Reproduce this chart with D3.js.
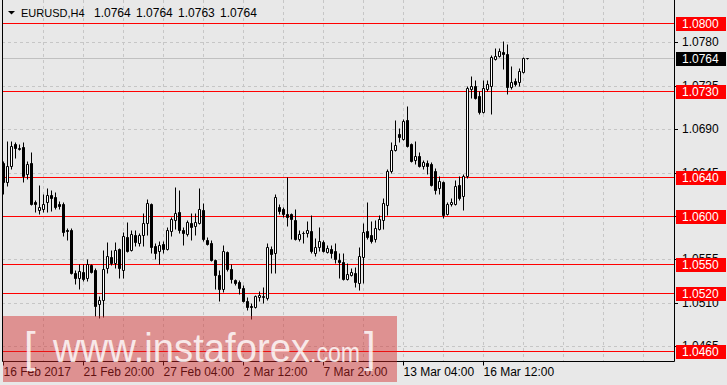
<!DOCTYPE html>
<html>
<head>
<meta charset="utf-8">
<script src="https://cdn.jsdelivr.net/npm/d3@7"></script>
<style>
html, body { margin: 0; padding: 0; background: #e8e8e8; }
svg { display: block; }
text { font-family: "Liberation Sans", Arial, sans-serif; }
</style>
</head>
<body>
<svg id="chart"></svg>
<script>
var symbol = "EURUSD,H4";
// first bar 16 Feb 2017 12:00, H4 bars, weekends skipped
var startTime = Date.UTC(2017, 1, 16, 12);

var opens = [1.0655,1.0635,1.0652,1.0675,1.0669,1.0671,1.0643,1.0655,1.0614,1.0606,
  1.0607,1.0614,1.0622,1.0620,1.0612,1.0612,1.0585,1.0585,1.0541,1.0536,
  1.0542,1.0536,1.0549,1.0544,1.0509,1.0513,1.0546,1.0557,1.0551,1.0566,
  1.0544,1.0578,1.0565,1.0580,1.0572,1.0580,1.0593,1.0612,1.0569,1.0564,
  1.0571,1.0566,1.0584,1.0596,1.0604,1.0585,1.0581,1.0593,1.0590,1.0593,
  1.0606,1.0575,1.0572,1.0554,1.0539,1.0524,1.0563,1.0545,1.0534,1.0532,
  1.0525,1.0512,1.0507,1.0506,1.0516,1.0516,1.0515,1.0566,1.0562,1.0609,
  1.0607,1.0602,1.0602,1.0596,1.0576,1.0582,1.0582,1.0584,1.0562,1.0568,
  1.0573,1.0563,1.0566,1.0564,1.0554,1.0552,1.0535,1.0539,1.0541,1.0530,
  1.0557,1.0584,1.0580,1.0576,1.0586,1.0596,1.0611,1.0647,1.0668,1.0685,
  1.0680,1.0699,1.0675,1.0658,1.0662,1.0652,1.0655,1.0654,1.0647,1.0629,
  1.0635,1.0602,1.0612,1.0612,1.0632,1.0621,1.0641,1.0732,1.0735,1.0724,
  1.0708,1.0732,1.0735,1.0763,1.0766,1.0770,1.0768,1.0734,1.0740,1.0739,
  1.0749,1.0764];
var highs = [1.0657,1.0678,1.0678,1.0677,1.0675,1.0677,1.0657,1.0666,1.0617,1.0632,
  1.0623,1.0629,1.0627,1.0625,1.0615,1.0614,1.0587,1.0587,1.0544,1.0550,
  1.0550,1.0555,1.0550,1.0546,1.0517,1.0565,1.0573,1.0565,1.0573,1.0567,
  1.0583,1.0594,1.0585,1.0585,1.0582,1.0603,1.0618,1.0613,1.0572,1.0574,
  1.0574,1.0589,1.0599,1.0630,1.0627,1.0589,1.0596,1.0603,1.0603,1.0629,
  1.0613,1.0578,1.0575,1.0555,1.0544,1.0570,1.0564,1.0550,1.0535,1.0534,
  1.0528,1.0516,1.0510,1.0518,1.0522,1.0526,1.0572,1.0569,1.0623,1.0612,
  1.0609,1.0640,1.0603,1.0607,1.0585,1.0584,1.0595,1.0601,1.0577,1.0589,
  1.0575,1.0570,1.0570,1.0572,1.0562,1.0562,1.0551,1.0546,1.0547,1.0568,
  1.0593,1.0614,1.0595,1.0596,1.0601,1.0619,1.0649,1.0677,1.0699,1.0691,
  1.0700,1.0714,1.0676,1.0678,1.0666,1.0658,1.0658,1.0656,1.0650,1.0641,
  1.0636,1.0614,1.0619,1.0637,1.0641,1.0643,1.0735,1.0745,1.0741,1.0729,
  1.0741,1.0741,1.0767,1.0774,1.0774,1.0781,1.0778,1.0755,1.0743,1.0753,
  1.0765,1.0764];
var lows = [1.0623,1.0631,1.0649,1.0660,1.0668,1.0635,1.0638,1.0611,1.0604,1.0602,
  1.0604,1.0604,1.0605,1.0607,1.0607,1.0579,1.0575,1.0540,1.0529,1.0524,
  1.0533,1.0533,1.0541,1.0496,1.0494,1.0495,1.0541,1.0549,1.0546,1.0536,
  1.0536,1.0563,1.0564,1.0569,1.0569,1.0569,1.0580,1.0562,1.0555,1.0550,
  1.0562,1.0565,1.0579,1.0586,1.0582,1.0570,1.0579,1.0575,1.0580,1.0592,
  1.0574,1.0570,1.0553,1.0524,1.0512,1.0521,1.0543,1.0530,1.0528,1.0519,
  1.0511,1.0502,1.0493,1.0505,1.0512,1.0510,1.0513,1.0541,1.0541,1.0602,
  1.0599,1.0590,1.0576,1.0575,1.0574,1.0572,1.0578,1.0562,1.0558,1.0564,
  1.0563,1.0562,1.0556,1.0551,1.0536,1.0534,1.0534,1.0538,1.0526,1.0523,
  1.0530,1.0576,1.0572,1.0573,1.0585,1.0586,1.0601,1.0645,1.0667,1.0677,
  1.0679,1.0671,1.0656,1.0654,1.0651,1.0649,1.0643,1.0631,1.0623,1.0623,
  1.0598,1.0601,1.0610,1.0611,1.0617,1.0606,1.0639,1.0722,1.0721,1.0706,
  1.0707,1.0729,1.0706,1.0762,1.0765,1.0752,1.0726,1.0732,1.0735,1.0735,
  1.0748,1.0763];
var closes = [1.0635,1.0652,1.0672,1.0670,1.0670,1.0641,1.0654,1.0612,1.0612,1.0609,
  1.0612,1.0622,1.0619,1.0609,1.0610,1.0583,1.0584,1.0541,1.0536,1.0543,
  1.0535,1.0550,1.0542,1.0507,1.0513,1.0545,1.0558,1.0551,1.0565,1.0546,
  1.0579,1.0564,1.0581,1.0573,1.0580,1.0593,1.0613,1.0568,1.0562,1.0570,
  1.0566,1.0585,1.0597,1.0603,1.0585,1.0582,1.0594,1.0589,1.0594,1.0607,
  1.0576,1.0571,1.0554,1.0539,1.0524,1.0564,1.0545,1.0535,1.0530,1.0525,
  1.0512,1.0506,1.0506,1.0517,1.0518,1.0517,1.0568,1.0561,1.0620,1.0605,
  1.0602,1.0599,1.0597,1.0576,1.0581,1.0582,1.0585,1.0564,1.0568,1.0574,
  1.0564,1.0567,1.0562,1.0555,1.0552,1.0535,1.0540,1.0542,1.0532,1.0558,
  1.0583,1.0578,1.0574,1.0587,1.0597,1.0613,1.0647,1.0668,1.0674,1.0682,
  1.0698,1.0672,1.0657,1.0662,1.0652,1.0656,1.0652,1.0632,1.0627,1.0636,
  1.0601,1.0612,1.0614,1.0631,1.0619,1.0641,1.0733,1.0735,1.0722,1.0708,
  1.0733,1.0737,1.0765,1.0766,1.0771,1.0768,1.0734,1.0739,1.0737,1.0750,
  1.0764,1.0764];

var levels = [1.0800, 1.0730, 1.0640, 1.0600, 1.0550, 1.0520, 1.0460];
var priceTicks = [1.0780, 1.0735, 1.0690, 1.0645, 1.0600, 1.0555, 1.0510, 1.0465];
var labelStep = 20;
var gridStep = 10;

var width = 727, height = 385;
var left = 2, right = 674, bottom = 361;
var n = opens.length;
var last = n - 1;

// bar times
var times = [];
var t = startTime;
for (var i = 0; i < n; i++) {
  times.push(new Date(t));
  t += 4 * 3600 * 1000;
  while (new Date(t).getUTCDay() == 0 || new Date(t).getUTCDay() == 6) t += 4 * 3600 * 1000;
}
var fmtFirst = d3.utcFormat("%-d %b %Y");
var fmtBar = d3.utcFormat("%-d %b %H:%M");

var svg = d3.select('#chart').attr('width', width).attr('height', height);
svg.append('rect').attr('width', width).attr('height', height).attr('fill', '#e8e8e8');

var x = d3.scaleLinear().domain([0, 1]).range([3.5, 7.5]);
var y = d3.scaleLinear().domain([1.0460, 1.0800]).range([351, 23]).interpolate(d3.interpolateRound);
function py(p) { return y(p) + 0.5; }

// grid
var grid = svg.append('g').attr('stroke', '#c6c6c6').attr('stroke-dasharray', '3,3');
var gx = d3.range(gridStep, 200, gridStep).filter(i => x(i) < right);
grid.selectAll('line.v').data(gx).enter().append('line')
  .attr('x1', d => x(d)).attr('x2', d => x(d))
  .attr('y1', 0).attr('y2', bottom);
grid.selectAll('line.h').data(priceTicks).enter().append('line')
  .attr('x1', left).attr('x2', right)
  .attr('y1', py).attr('y2', py);

// current price line
svg.append('line')
  .attr('x1', left).attr('x2', right)
  .attr('y1', py(closes[last])).attr('y2', py(closes[last]))
  .attr('stroke', '#c0c0c0');

// levels
svg.append('g').selectAll('line').data(levels).enter().append('line')
  .attr('x1', left).attr('x2', right)
  .attr('y1', py).attr('y2', py)
  .attr('stroke', '#ff0000');

// candles
var bars = d3.range(n);
var candles = svg.append('g');
candles.selectAll('line').data(bars).enter().append('line')
  .attr('x1', d => x(d)).attr('x2', d => x(d))
  .attr('y1', d => py(highs[d])).attr('y2', d => py(lows[d]))
  .attr('stroke', '#000');
candles.selectAll('path').data(bars).enter().append('path')
  .attr('d', function (d) {
    var yt = py(Math.max(opens[d], closes[d]));
    var yb = py(Math.min(opens[d], closes[d]));
    return 'M' + (x(d) - 1) + ',' + yt + 'H' + (x(d) + 1) + 'V' + yb + 'H' + (x(d) - 1) + 'Z';
  })
  .attr('fill', d => closes[d] >= opens[d] ? '#ffffff' : '#000000')
  .attr('stroke', '#000');

// frame
svg.append('path')
  .attr('d', 'M' + (left + 0.5) + ',0V' + (bottom + 0.5) + 'H' + (right + 0.5) + 'V0')
  .attr('fill', 'none').attr('stroke', '#000');

// price axis
var yAxis = d3.axisRight(y).tickValues(priceTicks).tickSize(4).tickPadding(4)
  .tickFormat(d3.format('.4f'));
var ya = svg.append('g').attr('transform', 'translate(' + right + ',0)').call(yAxis);
ya.select('.domain').remove();
ya.selectAll('text').attr('font-size', 12).attr('fill', '#000').attr('font-family', '"Liberation Sans", Arial, sans-serif');
ya.selectAll('line').attr('stroke', '#000');

// level labels
var tags = svg.append('g');
tags.selectAll('rect').data(levels).enter().append('rect')
  .attr('x', 676).attr('y', d => y(d) - 6).attr('width', 50).attr('height', 14)
  .attr('fill', '#ff0000');
tags.selectAll('text').data(levels).enter().append('text')
  .attr('x', 682).attr('y', d => y(d) + 5)
  .attr('font-size', 12).attr('fill', '#fff')
  .text(d3.format('.4f'));

svg.append('rect').attr('x', 676).attr('y', y(closes[last]) - 6).attr('width', 50).attr('height', 14)
  .attr('fill', '#000');
svg.append('text').attr('x', 682).attr('y', y(closes[last]) + 5)
  .attr('font-size', 12).attr('fill', '#fff')
  .text(d3.format('.4f')(closes[last]));

// time axis
var xAxis = d3.axisBottom(x).tickValues(d3.range(0, n, labelStep)).tickSize(4).tickPadding(2).offset(0)
  .tickFormat(i => i == 0 ? fmtFirst(times[i]) : fmtBar(times[i]));
var xa = svg.append('g').attr('transform', 'translate(0,' + (bottom + 0.5) + ')').call(xAxis);
xa.select('.domain').remove();
xa.selectAll('text').attr('text-anchor', 'start').attr('font-size', 12).attr('fill', '#000')
  .attr('font-family', '"Liberation Sans", Arial, sans-serif');
xa.selectAll('line').attr('stroke', '#000');

// header
svg.append('path').attr('d', 'M8,11H15L11.5,14.5Z').attr('fill', '#000');
svg.append('text').attr('x', 21).attr('y', 17).attr('font-size', 11).attr('fill', '#000').text(symbol);
svg.append('text').attr('x', 94).attr('y', 17).attr('font-size', 12).attr('fill', '#000')
  .attr('word-spacing', 2)
  .text([opens[last], highs[last], lows[last], closes[last]].map(d3.format('.4f')).join(' '));

// watermark
var wm = svg.append('g');
wm.append('rect').attr('x', 3).attr('y', 316).attr('width', 394).attr('height', 66)
  .attr('fill', 'rgb(210,41,41)').attr('opacity', 0.45);
var wt = wm.append('g').attr('fill', '#fff').attr('opacity', 0.8)
  .style('font-family', '"Open Sans", "Liberation Sans", sans-serif').style('font-weight', 300);
wt.append('text').attr('x', 24).attr('y', 362).attr('font-size', 42).text('[');
wt.append('text').attr('x', 53).attr('y', 362).attr('font-size', 40)
  .attr('textLength', 257).attr('lengthAdjust', 'spacingAndGlyphs').text('www.instaforex');
wt.append('text').attr('x', 310).attr('y', 362).attr('font-size', 27)
  .attr('textLength', 50).attr('lengthAdjust', 'spacingAndGlyphs').text('.com');
wt.append('text').attr('x', 364).attr('y', 362).attr('font-size', 42).text(']');
</script>
</body>
</html>
